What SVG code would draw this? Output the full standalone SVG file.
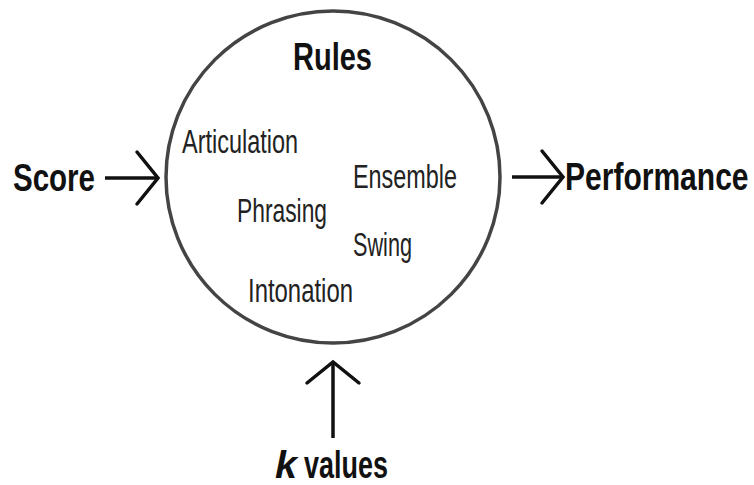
<svg xmlns="http://www.w3.org/2000/svg" width="754" height="485" viewBox="0 0 754 485">
<style>
.big{font-family:"Liberation Sans",Arial,sans-serif;font-weight:bold;font-size:39px;fill:#111}
.rule{font-family:"Liberation Sans",Arial,sans-serif;font-size:33px;fill:#222}
.conn{stroke:#111;stroke-width:3.5;fill:none}
</style>
<defs>
<marker id="chev" markerUnits="userSpaceOnUse" viewBox="-30 -32 36 64" refX="0" refY="0" markerWidth="36" markerHeight="64" orient="auto">
<path d="M -21 -26 L 0 0 L -21 26" fill="none" stroke="#111" stroke-width="3.5" stroke-linecap="round" stroke-linejoin="miter"/>
</marker>
</defs>
<rect width="754" height="485" fill="#fff"/>
<g id="rules">
<ellipse cx="333" cy="177" rx="167" ry="166" fill="none" stroke="#444" stroke-width="3.5"/>
<text class="big" x="293" y="70" textLength="79" lengthAdjust="spacingAndGlyphs">Rules</text>
<text class="rule" x="182" y="153" textLength="116" lengthAdjust="spacingAndGlyphs">Articulation</text>
<text class="rule" x="353" y="188" textLength="104" lengthAdjust="spacingAndGlyphs">Ensemble</text>
<text class="rule" x="237" y="222" textLength="90" lengthAdjust="spacingAndGlyphs">Phrasing</text>
<text class="rule" x="353" y="256" textLength="59" lengthAdjust="spacingAndGlyphs">Swing</text>
<text class="rule" x="248" y="302" textLength="105" lengthAdjust="spacingAndGlyphs">Intonation</text>
</g>
<g id="score">
<text class="big" x="13" y="191" textLength="82" lengthAdjust="spacingAndGlyphs">Score</text>
</g>
<g id="performance">
<text class="big" transform="translate(565,190) scale(0.77,1)" x="0" y="0">Performance</text>
</g>
<g id="kvalues">
<text class="big" x="275" y="478" font-style="italic" textLength="22" lengthAdjust="spacingAndGlyphs">k</text>
<text class="big" x="304" y="478" textLength="84" lengthAdjust="spacingAndGlyphs">values</text>
</g>
<g id="connectors">
<line class="conn" x1="105" y1="178" x2="158" y2="178" marker-end="url(#chev)"/>
<line class="conn" x1="512" y1="177" x2="563" y2="177" marker-end="url(#chev)"/>
<line class="conn" x1="333" y1="438" x2="333" y2="362" marker-end="url(#chev)"/>
</g>
</svg>
